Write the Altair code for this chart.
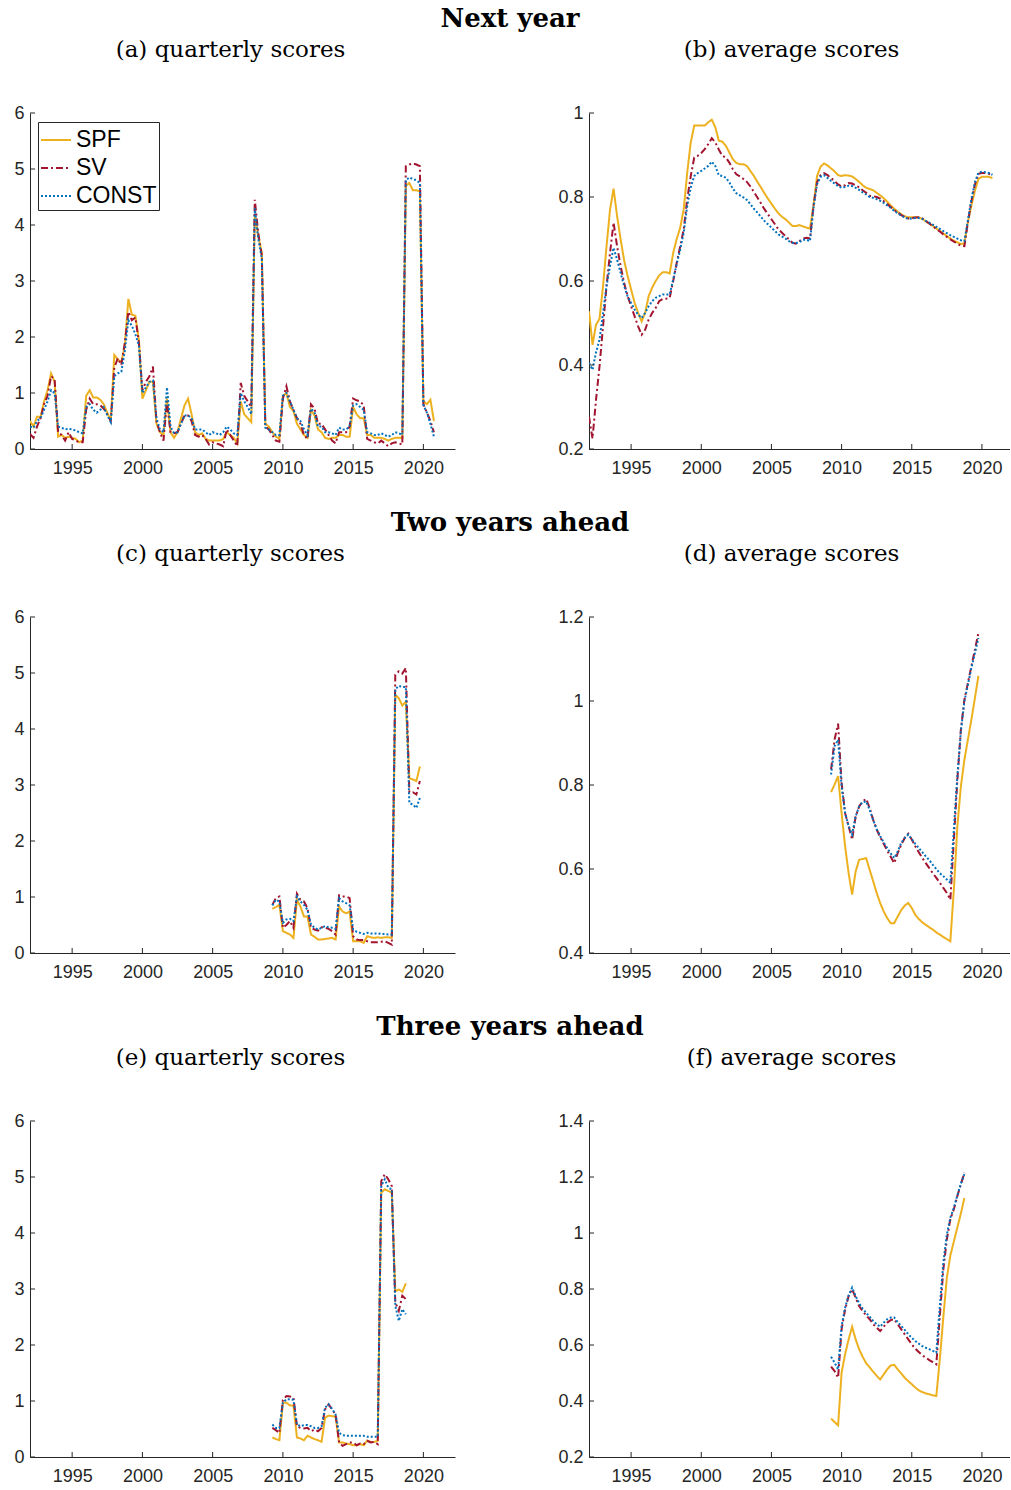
import altair as alt
import pandas as pd

SERIES = ["SPF", "SV", "CONST"]
COLORS = ["#EDB120", "#A2142F", "#0072BD"]
DASHES = [[1, 0], [7, 3, 2, 3], [2, 2]]
XTICKS = [1995, 2000, 2005, 2010, 2015, 2020]

# ---------------- Next year: quarterly scores (1992Q1 - 2020Q4) ----------------
A_START = 1992.0
A_SPF = [0.5, 0.4, 0.58, 0.57, 0.85, 1.05, 1.35, 1.2, 0.22, 0.25, 0.2, 0.22,
         0.2, 0.18, 0.12, 0.15, 0.95, 1.05, 0.92, 0.92, 0.88, 0.8, 0.65, 0.5,
         1.68, 1.6, 1.55, 1.85, 2.68, 2.4, 2.38, 1.95, 0.9, 1.05, 1.2, 1.2,
         0.45, 0.3, 0.25, 0.9, 0.3, 0.2, 0.3, 0.55, 0.78, 0.9, 0.62, 0.3,
         0.25, 0.28, 0.18, 0.15, 0.15, 0.15, 0.15, 0.18, 0.3, 0.25, 0.2, 0.1,
         0.85, 0.62, 0.55, 0.48, 4.2, 3.8, 3.5, 0.45, 0.4, 0.3, 0.22, 0.18,
         0.95, 1.0, 0.75, 0.68, 0.45, 0.35, 0.25, 0.2, 0.7, 0.6, 0.35, 0.3,
         0.2, 0.18, 0.2, 0.2, 0.25, 0.25, 0.22, 0.22, 0.75, 0.62, 0.55, 0.55,
         0.25, 0.25, 0.2, 0.2, 0.2, 0.18, 0.15, 0.18, 0.2, 0.2, 0.2, 4.7,
         4.75, 4.62, 4.62, 4.6, 0.85, 0.8, 0.88, 0.5]
A_SV = [0.27, 0.2, 0.4, 0.55, 0.8, 0.95, 1.3, 1.25, 0.3, 0.25, 0.15, 0.3,
        0.18, 0.15, 0.12, 0.12, 0.7, 0.9, 0.8, 0.8, 0.78, 0.72, 0.62, 0.5,
        1.45, 1.62, 1.5, 1.9, 2.45, 2.3, 2.35, 1.9, 1.05, 1.2, 1.3, 1.47,
        0.5, 0.3, 0.15, 0.85, 0.3, 0.28, 0.3, 0.45, 0.6, 0.6, 0.5, 0.25,
        0.22, 0.25, 0.18, 0.08, 0.12, 0.1, 0.08, 0.05, 0.35, 0.25, 0.15, 0.05,
        1.18, 0.95, 0.85, 0.75, 4.45, 3.85, 3.45, 0.4, 0.35, 0.25, 0.15, 0.13,
        0.9, 1.12, 0.85, 0.7, 0.55, 0.45, 0.25, 0.18, 0.8, 0.72, 0.45, 0.45,
        0.35, 0.25, 0.15, 0.1, 0.3, 0.3, 0.3, 0.4, 0.9, 0.87, 0.85, 0.78,
        0.18, 0.15, 0.12, 0.1, 0.15, 0.1, 0.05, 0.1, 0.12, 0.1, 0.08, 5.05,
        5.08, 5.1, 5.08, 5.05, 0.8, 0.65, 0.5, 0.3]
A_CONST = [0.4, 0.38, 0.5, 0.55, 0.7, 0.85, 1.05, 1.0, 0.4, 0.38, 0.35, 0.36,
           0.35, 0.33, 0.3, 0.28, 0.75, 0.8, 0.7, 0.65, 0.7, 0.75, 0.6, 0.48,
           1.3, 1.35, 1.38, 1.75, 2.3, 2.2, 2.05, 1.85, 1.0, 1.1, 1.2, 1.22,
           0.55, 0.35, 0.3, 1.1, 0.4, 0.28, 0.3, 0.45, 0.6, 0.6, 0.55, 0.35,
           0.35, 0.35, 0.3, 0.25, 0.3, 0.28, 0.25, 0.3, 0.4, 0.35, 0.28, 0.25,
           1.0, 0.85, 0.75, 0.62, 4.3, 3.75, 3.4, 0.38, 0.35, 0.3, 0.25, 0.25,
           0.95, 1.0, 0.85, 0.7, 0.55, 0.5, 0.35, 0.25, 0.72, 0.65, 0.4, 0.4,
           0.3, 0.3, 0.28, 0.25, 0.38, 0.35, 0.35, 0.4, 0.78, 0.8, 0.75, 0.7,
           0.3, 0.28, 0.25, 0.25, 0.28, 0.25, 0.22, 0.25, 0.3, 0.28, 0.25, 4.8,
           4.85, 4.82, 4.8, 4.75, 0.78, 0.65, 0.45, 0.22]

# ---------------- Next year: average scores ----------------
B_START = 1992.0
B_SPF = [0.528, 0.448, 0.496, 0.51, 0.588, 0.683, 0.77, 0.82, 0.755, 0.70, 0.65, 0.612,
         0.58, 0.548, 0.524, 0.504, 0.524, 0.564, 0.584, 0.60, 0.613, 0.621, 0.621, 0.618,
         0.667, 0.70, 0.727, 0.771, 0.858, 0.93, 0.97, 0.97, 0.97, 0.97, 0.978, 0.984,
         0.966, 0.934, 0.932, 0.922, 0.906, 0.89, 0.881, 0.878, 0.878, 0.874, 0.862, 0.85,
         0.836, 0.823, 0.809, 0.796, 0.784, 0.772, 0.761, 0.753, 0.747, 0.739, 0.731, 0.731,
         0.733, 0.73, 0.727, 0.725, 0.78, 0.85, 0.872, 0.88, 0.875, 0.868, 0.861, 0.852,
         0.85, 0.852, 0.851, 0.849, 0.843, 0.836, 0.828, 0.822, 0.819, 0.816, 0.81, 0.804,
         0.797, 0.789, 0.78, 0.772, 0.765, 0.759, 0.754, 0.752, 0.752, 0.752, 0.751, 0.748,
         0.742, 0.737, 0.731, 0.725, 0.719, 0.713, 0.707, 0.701, 0.696, 0.692, 0.688, 0.69,
         0.74, 0.78, 0.815, 0.843, 0.848, 0.848, 0.848, 0.845]
B_SV = [0.277, 0.225, 0.317, 0.397, 0.492, 0.588, 0.667, 0.739, 0.683, 0.636, 0.596, 0.564,
        0.54, 0.516, 0.492, 0.472, 0.484, 0.508, 0.524, 0.536, 0.552, 0.557, 0.558, 0.56,
        0.6, 0.643, 0.683, 0.723, 0.795, 0.85, 0.894, 0.898, 0.905, 0.914, 0.926, 0.94,
        0.93, 0.913, 0.898, 0.894, 0.882, 0.866, 0.854, 0.849, 0.843, 0.836, 0.825, 0.812,
        0.799, 0.785, 0.771, 0.759, 0.747, 0.735, 0.723, 0.715, 0.707, 0.699, 0.691, 0.689,
        0.695, 0.701, 0.703, 0.701, 0.78, 0.835, 0.852, 0.857, 0.852, 0.845, 0.838, 0.83,
        0.825, 0.828, 0.833, 0.832, 0.828, 0.823, 0.816, 0.81, 0.803, 0.802, 0.8, 0.796,
        0.79, 0.783, 0.776, 0.769, 0.763, 0.757, 0.752, 0.749, 0.75, 0.751, 0.752, 0.749,
        0.743, 0.737, 0.73, 0.724, 0.718, 0.711, 0.705, 0.699, 0.694, 0.689, 0.684, 0.683,
        0.74, 0.79, 0.83, 0.855, 0.857, 0.857, 0.855, 0.852]
B_CONST = [0.405, 0.389, 0.43, 0.46, 0.524, 0.588, 0.636, 0.679, 0.651, 0.62, 0.588, 0.564,
           0.548, 0.532, 0.52, 0.512, 0.524, 0.54, 0.552, 0.56, 0.564, 0.568, 0.568, 0.568,
           0.604, 0.64, 0.675, 0.715, 0.779, 0.823, 0.85, 0.857, 0.862, 0.868, 0.874, 0.884,
           0.874, 0.852, 0.85, 0.846, 0.835, 0.82, 0.809, 0.804, 0.799, 0.793, 0.783, 0.772,
           0.763, 0.753, 0.743, 0.735, 0.727, 0.719, 0.711, 0.706, 0.701, 0.695, 0.691, 0.69,
           0.693, 0.698, 0.698, 0.695, 0.775, 0.83, 0.848, 0.852, 0.845, 0.838, 0.832, 0.826,
           0.822, 0.824, 0.827, 0.826, 0.822, 0.817, 0.811, 0.806, 0.8, 0.798, 0.795, 0.791,
           0.786, 0.78, 0.774, 0.767, 0.761, 0.756, 0.751, 0.748, 0.749, 0.75, 0.75, 0.748,
           0.743, 0.739, 0.734, 0.729, 0.724, 0.719, 0.714, 0.709, 0.705, 0.701, 0.697, 0.695,
           0.745, 0.795, 0.835, 0.858, 0.86, 0.859, 0.857, 0.853]

# ---------------- Two years ahead: quarterly scores (2009Q2 - 2019Q4) ----------------
C_START = 2009.25
C_SPF = [0.79, 0.82, 0.86, 0.39, 0.36, 0.33, 0.27, 0.95, 0.83, 0.65, 0.65,
         0.33, 0.29, 0.24, 0.24, 0.25, 0.26, 0.27, 0.24, 0.83, 0.74, 0.71, 0.74,
         0.21, 0.21, 0.21, 0.18, 0.3, 0.28, 0.27, 0.28, 0.27, 0.28, 0.28, 0.27,
         4.61, 4.55, 4.42, 4.49, 3.12, 3.1, 3.07, 3.33]
C_SV = [0.86, 0.98, 1.01, 0.45, 0.5, 0.57, 0.45, 1.06, 0.95, 0.92, 0.8,
        0.45, 0.42, 0.4, 0.46, 0.45, 0.43, 0.39, 0.33, 1.03, 1.01, 1.01, 0.98,
        0.3, 0.24, 0.23, 0.23, 0.21, 0.19, 0.19, 0.19, 0.2, 0.21, 0.18, 0.15,
        4.97, 5.03, 4.99, 5.09, 2.87, 2.87, 2.83, 3.07]
C_CONST = [0.85, 0.95, 0.92, 0.54, 0.6, 0.61, 0.57, 1.01, 0.92, 0.86, 0.77,
           0.51, 0.45, 0.42, 0.45, 0.48, 0.46, 0.45, 0.43, 0.98, 0.92, 0.89, 0.85,
           0.42, 0.38, 0.36, 0.34, 0.36, 0.35, 0.35, 0.35, 0.34, 0.34, 0.33, 0.33,
           4.71, 4.77, 4.75, 4.75, 2.68, 2.65, 2.59, 2.77]

# ---------------- Two years ahead: average scores ----------------
D_START = 2009.25
D_SPF = [0.783, 0.801, 0.821, 0.733, 0.654, 0.59, 0.539, 0.594, 0.622, 0.624, 0.626,
         0.598, 0.571, 0.543, 0.519, 0.499, 0.483, 0.471, 0.471, 0.487, 0.502, 0.513, 0.519,
         0.507, 0.491, 0.481, 0.473, 0.467, 0.461, 0.456, 0.449, 0.444, 0.438, 0.433, 0.428,
         0.551, 0.702, 0.797, 0.86, 0.908, 0.956, 1.007, 1.06]
D_SV = [0.837, 0.908, 0.946, 0.805, 0.733, 0.702, 0.67, 0.725, 0.749, 0.761, 0.767,
        0.745, 0.717, 0.694, 0.676, 0.66, 0.644, 0.629, 0.614, 0.638, 0.658, 0.674, 0.684,
        0.67, 0.654, 0.64, 0.626, 0.614, 0.602, 0.59, 0.579, 0.567, 0.555, 0.543, 0.527,
        0.67, 0.813, 0.932, 1.003, 1.043, 1.083, 1.122, 1.162]
D_CONST = [0.825, 0.892, 0.908, 0.797, 0.733, 0.702, 0.682, 0.725, 0.749, 0.759, 0.761,
           0.741, 0.717, 0.695, 0.678, 0.663, 0.65, 0.637, 0.626, 0.642, 0.662, 0.674, 0.682,
           0.671, 0.66, 0.65, 0.64, 0.63, 0.621, 0.61, 0.6, 0.59, 0.583, 0.575, 0.567,
           0.694, 0.821, 0.928, 0.999, 1.039, 1.079, 1.114, 1.15]

# ---------------- Three years ahead: quarterly scores (2009Q2 - 2018Q4) ----------------
E_START = 2009.25
E_SPF = [0.35, 0.32, 0.3, 0.97, 0.97, 0.92, 0.92, 0.35, 0.33, 0.3, 0.38,
         0.35, 0.32, 0.3, 0.27, 0.7, 0.74, 0.73, 0.72, 0.26, 0.26, 0.24, 0.23,
         0.21, 0.21, 0.23, 0.21, 0.29, 0.27, 0.27, 0.29, 4.72, 4.78, 4.75, 4.72,
         2.96, 2.99, 2.95, 3.1]
E_SV = [0.52, 0.48, 0.43, 1.02, 1.09, 1.08, 1.06, 0.55, 0.52, 0.51, 0.52,
        0.46, 0.49, 0.46, 0.52, 0.85, 0.94, 0.85, 0.76, 0.26, 0.2, 0.23, 0.26,
        0.26, 0.21, 0.24, 0.23, 0.29, 0.26, 0.27, 0.23, 4.93, 5.05, 4.96, 4.84,
        2.76, 2.61, 2.88, 2.82]
E_CONST = [0.58, 0.52, 0.52, 0.97, 1.03, 1.03, 1.02, 0.58, 0.55, 0.57, 0.57,
           0.55, 0.52, 0.52, 0.55, 0.88, 0.94, 0.86, 0.76, 0.43, 0.39, 0.38, 0.38,
           0.38, 0.38, 0.38, 0.38, 0.36, 0.36, 0.36, 0.36, 4.84, 4.96, 4.81, 4.78,
           2.7, 2.43, 2.64, 2.55]

# ---------------- Three years ahead: average scores ----------------
F_START = 2009.25
F_SPF = [0.337, 0.325, 0.313, 0.501, 0.567, 0.62, 0.665, 0.62, 0.585, 0.558, 0.535,
         0.52, 0.505, 0.49, 0.477, 0.495, 0.513, 0.527, 0.529, 0.513, 0.498, 0.483, 0.471,
         0.46, 0.448, 0.438, 0.432, 0.427, 0.424, 0.42, 0.418, 0.55, 0.7, 0.84, 0.92,
         0.97, 1.02, 1.07, 1.125]
F_SV = [0.523, 0.507, 0.483, 0.656, 0.727, 0.775, 0.799, 0.769, 0.739, 0.721, 0.706,
        0.692, 0.674, 0.662, 0.65, 0.665, 0.68, 0.689, 0.692, 0.674, 0.656, 0.638, 0.62,
        0.602, 0.587, 0.575, 0.563, 0.555, 0.546, 0.539, 0.531, 0.704, 0.87, 0.977, 1.049,
        1.085, 1.132, 1.174, 1.215]
F_CONST = [0.558, 0.537, 0.513, 0.668, 0.733, 0.777, 0.805, 0.775, 0.749, 0.73, 0.715,
           0.701, 0.686, 0.674, 0.665, 0.68, 0.692, 0.698, 0.698, 0.682, 0.668, 0.654, 0.638,
           0.626, 0.614, 0.605, 0.596, 0.59, 0.585, 0.579, 0.573, 0.739, 0.894, 0.995, 1.055,
           1.09, 1.135, 1.177, 1.21]

ROW_TITLES = ["Next year", "Two years ahead", "Three years ahead"]
PANEL_TITLES = ["(a) quarterly scores", "(b) average scores",
                "(c) quarterly scores", "(d) average scores",
                "(e) quarterly scores", "(f) average scores"]

SANS = "Liberation Sans"
SERIF = "DejaVu Serif"
AX = "#262626"
H = 336
WL, WR = 425, 421


def long_df(start, spf, sv, const):
    rows = []
    for name, vals in zip(SERIES, [spf, sv, const]):
        for i, v in enumerate(vals):
            rows.append({"t": start + 0.25 * i, "v": v, "s": name})
    return pd.DataFrame(rows)


def panel(df, ydom, yticks, title, width, xmax, legend=False, dx=0):
    xs = alt.Scale(domain=[1992, xmax], nice=False, zero=False)
    ys = alt.Scale(domain=ydom, nice=False, zero=False)
    xaxis = alt.Axis(values=XTICKS, format="d", title=None, grid=False, ticks=False,
                     tickSize=0, labelFont=SANS, labelFontSize=18, labelColor=AX,
                     domainColor=AX, domainWidth=1, labelPadding=10, labelFlush=False)
    yaxis = alt.Axis(values=yticks, format=".1~f", title=None, grid=False, ticks=False,
                     tickSize=0, labelFont=SANS, labelFontSize=18, labelColor=AX,
                     domainColor=AX, domainWidth=1, labelPadding=6, labelFlush=False)
    if legend:
        leg = alt.Legend(orient="none", legendX=8, legendY=9, title=None,
                         symbolType="stroke", symbolSize=900, symbolStrokeWidth=2,
                         labelFont=SANS, labelFontSize=23, labelColor="black",
                         strokeColor=AX, fillColor="white", padding=2,
                         rowPadding=0, labelOffset=4)
    else:
        leg = None
    lines = alt.Chart(df).mark_line(strokeWidth=2, clip=True).encode(
        x=alt.X("t:Q", scale=xs, axis=xaxis),
        y=alt.Y("v:Q", scale=ys, axis=yaxis),
        color=alt.Color("s:N", scale=alt.Scale(domain=SERIES, range=COLORS), legend=leg),
        strokeDash=alt.StrokeDash("s:N", scale=alt.Scale(domain=SERIES, range=DASHES), legend=leg),
    )
    ytk = alt.Chart(pd.DataFrame({"v": yticks})).mark_rule(color=AX, strokeWidth=1).encode(
        y=alt.Y("v:Q", scale=ys, axis=yaxis), x=alt.value(0), x2=alt.value(5))
    xtk = alt.Chart(pd.DataFrame({"t": XTICKS})).mark_rule(color=AX, strokeWidth=1).encode(
        x=alt.X("t:Q", scale=xs, axis=xaxis), y=alt.value(H), y2=alt.value(H - 5))
    return alt.layer(lines, ytk, xtk).properties(
        width=width, height=H,
        title=alt.Title(title, font=SERIF, fontSize=23, fontWeight="normal", color="black",
                        anchor="middle", frame="group", offset=24, baseline="alphabetic", dx=dx))


def row(left, right, title):
    return alt.hconcat(left, right, spacing=134, bounds="flush").properties(
        title=alt.Title(title, font=SERIF, fontSize=26, fontWeight="bold", color="black",
                        anchor="middle", frame="group", offset=-14, baseline="alphabetic", dx=480)
    ).resolve_scale(color="independent", strokeDash="independent").resolve_legend(
        color="independent", strokeDash="independent")


pa = panel(long_df(A_START, A_SPF, A_SV, A_CONST), [0, 6], [0, 1, 2, 3, 4, 5, 6],
           PANEL_TITLES[0], WL, 2022.25, legend=True, dx=-12)
pb = panel(long_df(B_START, B_SPF, B_SV, B_CONST), [0.2, 1], [0.2, 0.4, 0.6, 0.8, 1],
           PANEL_TITLES[1], WR, 2022.0, dx=-8)
pc = panel(long_df(C_START, C_SPF, C_SV, C_CONST), [0, 6], [0, 1, 2, 3, 4, 5, 6],
           PANEL_TITLES[2], WL, 2022.25, dx=-12)
pd_ = panel(long_df(D_START, D_SPF, D_SV, D_CONST), [0.4, 1.2], [0.4, 0.6, 0.8, 1, 1.2],
            PANEL_TITLES[3], WR, 2022.0, dx=-8)
pe = panel(long_df(E_START, E_SPF, E_SV, E_CONST), [0, 6], [0, 1, 2, 3, 4, 5, 6],
           PANEL_TITLES[4], WL, 2022.25, dx=-12)
pf = panel(long_df(F_START, F_SPF, F_SV, F_CONST), [0.2, 1.4], [0.2, 0.4, 0.6, 0.8, 1, 1.2, 1.4],
           PANEL_TITLES[5], WR, 2022.0, dx=-8)

chart = alt.vconcat(
    row(pa, pb, ROW_TITLES[0]),
    row(pc, pd_, ROW_TITLES[1]),
    row(pe, pf, ROW_TITLES[2]),
    spacing=33,
).resolve_scale(color="independent", strokeDash="independent").resolve_legend(
    color="independent", strokeDash="independent"
).properties(
    padding={"left": 13, "top": 6, "right": 0, "bottom": 0}, background="white"
).configure_view(stroke=None)

chart.save("out.html", embed_options={"renderer": "svg", "actions": False})
